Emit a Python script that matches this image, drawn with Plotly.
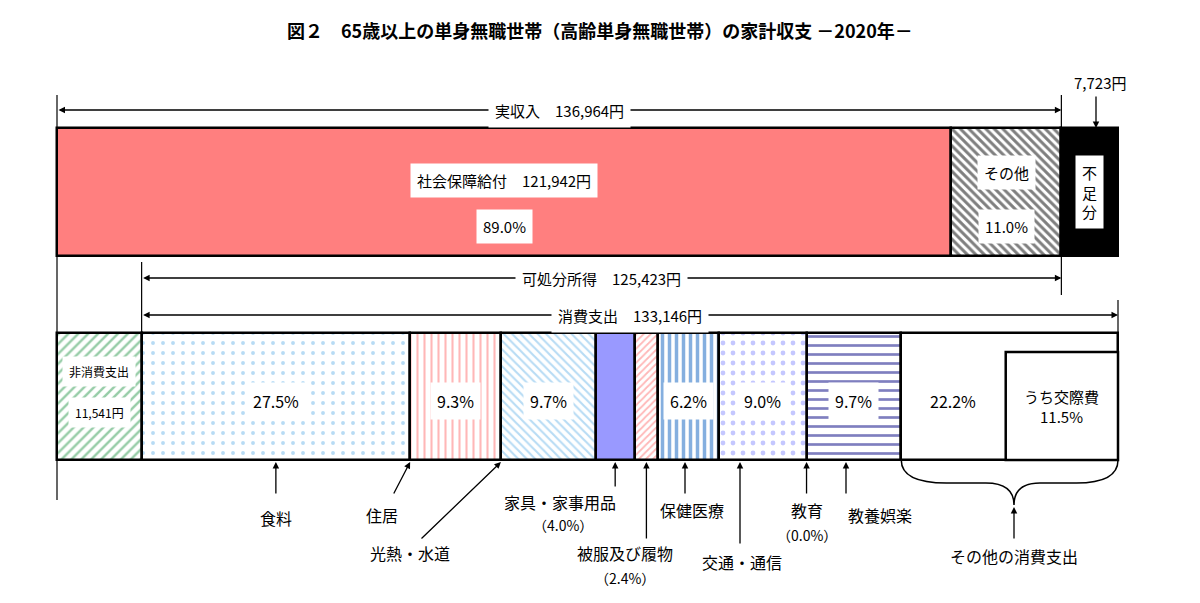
import plotly.graph_objects as go

# ---- data ----
income_labels = ["社会保障給付", "その他", "不足分"]
income_values = [121942, 15022, 7723]
total_income = 136964
disposable = 125423
consumption_total = 133146
nonconsumption = 11541
cons_labels = ["食料", "住居", "光熱・水道", "家具・家事用品", "被服及び履物", "保健医療",
               "交通・通信", "教育", "教養娯楽", "その他の消費支出"]
cons_shares = [27.5, 9.3, 9.7, 4.0, 2.4, 6.2, 9.0, 0.0, 9.7, 22.2]
kousai_share = 11.5

FONT = "Noto Sans CJK JP"
K = (income_values[0] + income_values[1] + income_values[2]) / 1061.0  # yen per pixel
def px(p):
    return (p - 57) * K

fig = go.Figure()
def bar(x0, w, yc, h, fg, bg, shape, size=8, sol=0.3):
    m = dict(color=bg, line=dict(color="black", width=2.5))
    if shape:
        m["pattern"] = dict(shape=shape, fgcolor=fg, bgcolor=bg, size=size, solidity=sol, fillmode="overlay")
    fig.add_trace(go.Bar(x=[w], y=[yc], base=[x0], width=[h], orientation="h", marker=m,
                         hoverinfo="skip", showlegend=False))

TY, TH = 192, 128
bar(0, income_values[0], TY, TH, None, "#FF7F7F", None)
bar(income_values[0], income_values[1], TY, TH, "black", "white", "\\", size=6, sol=0.5)
bar(total_income, income_values[2], TY, TH, None, "black", None)

BY, BH = 396.5, 127
bar(0, nonconsumption, BY, BH, "#2e9a50", "white", "/", size=7, sol=0.35)
styles = [("#6fb8ea", "white", ".", 10, 0.12),
          ("#ff7070", "white", "|", 7, 0.3),
          ("#6fb8ea", "white", "\\", 6, 0.35),
          (None, "#9999ff", None, 8, 0.3),
          ("#ff7070", "white", "/", 5, 0.35),
          ("#0b5fc0", "white", "|", 7, 0.5),
          ("#8a90ff", "white", ".", 10, 0.18),
          ("black", "white", None, 8, 0.3),
          ("#000080", "white", "-", 9, 0.3),
          (None, "white", None, 8, 0.3)]
starts = []
cur = nonconsumption
for s, st in zip(cons_shares, styles):
    w = consumption_total * s / 100
    starts.append(cur)
    if w > 0:
        bar(cur, w, BY, BH, st[0], st[1], st[2], size=st[3], sol=st[4])
    cur += w
mids = [starts[i] + consumption_total * cons_shares[i] / 200 for i in range(len(cons_shares))]
end_all = cur

shapes = []
annos = []
def line(x0, y0, x1, y1, w=1.2):
    shapes.append(dict(type="line", x0=x0, y0=y0, x1=x1, y1=y1, xref="x", yref="y",
                       line=dict(color="black", width=w)))
def txt(x, y, t, size=15, bg=None, xanchor="center"):
    a = dict(x=x, y=y, text=t, showarrow=False, xref="x", yref="y",
             font=dict(family=FONT, size=size, color="black"), xanchor=xanchor)
    if bg:
        a.update(bgcolor=bg, borderpad=6)
    annos.append(a)
def arrow(x, y, ax, ay, both=False):
    annos.append(dict(x=x, y=y, ax=ax, ay=ay, xref="x", yref="y", axref="x", ayref="y",
                      text="", showarrow=True, arrowhead=2, arrowsize=1, arrowwidth=1.3,
                      arrowside="end+start" if both else "end", arrowcolor="black"))

kx0 = end_all - consumption_total * kousai_share / 100
shapes.append(dict(type="rect", x0=kx0, x1=end_all, y0=352, y1=460, xref="x", yref="y",
                   line=dict(color="black", width=2.5), fillcolor="white"))

line(0, 95, 0, 500)
line(total_income, 95, total_income, 295)
line(nonconsumption, 262, nonconsumption, 333)
line(end_all, 300, end_all, 333)
arrow(total_income, 110, 0, 110, both=True)
txt(total_income / 2, 110, f"実収入　{total_income:,}円", bg="white")
arrow(total_income, 278, nonconsumption, 278, both=True)
txt((total_income + nonconsumption) / 2, 278, f"可処分所得　{disposable:,}円", bg="white")
arrow(end_all, 315, nonconsumption, 315, both=True)
txt((end_all + nonconsumption) / 2, 315, f"消費支出　{consumption_total:,}円", bg="white")

txt(income_values[0] / 2, 180, f"社会保障給付　{income_values[0]:,}円", bg="white")
txt(income_values[0] / 2, 226, "89.0%", bg="white")
txt(income_values[0] + income_values[1] / 2, 172, "その他", bg="white")
txt(income_values[0] + income_values[1] / 2, 226, "11.0%", bg="white")
txt(total_income + income_values[2] / 2, 192, "不<br>足<br>分", bg="white")
txt(px(1128), 82, f"{income_values[2]:,}円", xanchor="right")
arrow(px(1096), 128, px(1096), 95)

txt(nonconsumption / 2, 371, "非消費支出", 12, bg="white")
txt(nonconsumption / 2, 412, f"{nonconsumption:,}円", 12, bg="white")
for i in [0, 1, 2, 5, 6, 8, 9]:
    xx = mids[i] if i != 9 else starts[9] + (kx0 - starts[9]) / 2
    txt(xx, 401, f"{cons_shares[i]:.1f}%", 16, bg="white" if i != 9 else None)
txt((kx0 + end_all) / 2, 406, f"うち交際費<br>{kousai_share}%", 15)

arrow(mids[0], 462, mids[0], 495); txt(mids[0], 518, cons_labels[0], 16)
arrow(starts[1], 462, px(393), 495); txt(px(382), 515, cons_labels[1], 16)
arrow(starts[2], 462, px(420), 540); txt(px(410), 553, cons_labels[2], 16)
arrow(mids[3], 462, mids[3], 488); txt(px(560), 502, cons_labels[3], 16); txt(px(563), 525, "（4.0%）", 14)
arrow(mids[4], 462, mids[4], 540); txt(px(625), 553, cons_labels[4], 16); txt(px(625), 578, "（2.4%）", 14)
arrow(px(685), 462, px(685), 495); txt(px(692), 510, cons_labels[5], 16)
arrow(px(740), 462, px(740), 545); txt(px(742), 562, cons_labels[6], 16)
arrow(starts[7], 462, starts[7], 495); txt(starts[7], 510, cons_labels[7], 16); txt(starts[7], 535, "（0.0%）", 14)
arrow(px(846), 462, px(846), 495); txt(px(880), 515, cons_labels[8], 16)
bx0, bx1 = starts[9], end_all
bm = px(1014)
shapes.append(dict(type="path", xref="x", yref="y",
                   path=f"M {bx0},460 Q {bx0},483 {bx0+(bm-bx0)*0.4},483 L {bm-(bm-bx0)*0.25},483 Q {bm},483 {bm},505 "
                        f"Q {bm},483 {bm+(bx1-bm)*0.25},483 L {bx1-(bx1-bm)*0.4},483 Q {bx1},483 {bx1},460",
                   line=dict(color="black", width=1.5)))
arrow(bm, 507, bm, 540); txt(bm, 556, cons_labels[9], 16)

annos.append(dict(x=px(600), y=30, xref="x", yref="y", showarrow=False,
                  text="<b>図２　65歳以上の単身無職世帯（高齢単身無職世帯）の家計収支 －2020年－</b>",
                  font=dict(family=FONT, size=18, color="black")))

fig.update_layout(width=1184, height=587, margin=dict(l=0, r=0, t=0, b=0),
                  paper_bgcolor="white", plot_bgcolor="white", barmode="overlay", bargap=0,
                  xaxis=dict(range=[px(8), px(1192)], visible=False, fixedrange=True),
                  yaxis=dict(range=[595, 8], visible=False, fixedrange=True),
                  shapes=shapes, annotations=annos)
fig.write_html("out.html")
